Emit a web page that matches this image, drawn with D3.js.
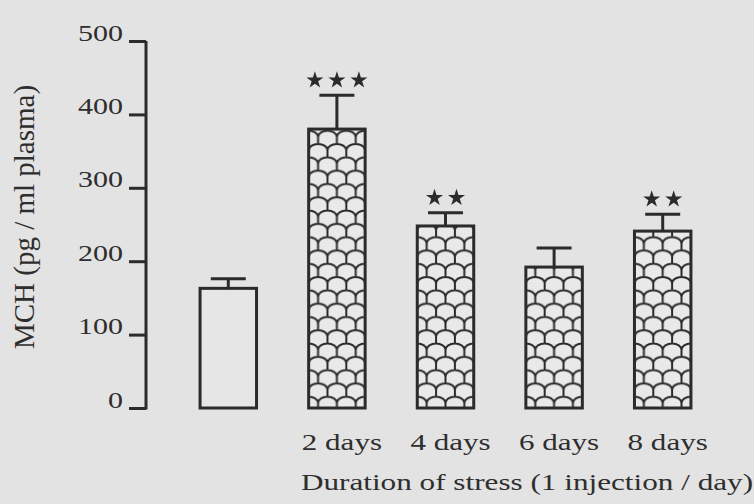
<!DOCTYPE html>
<html lang="en">
<head>
    <meta charset="UTF-8">
    <title>MCH plasma levels</title>
    <style>
        body { margin: 0; padding: 0; background: #e3e3e3; }
        svg { display: block; }
        text { font-family: "Liberation Serif", "DejaVu Serif", serif; fill: #2e2e2e; }
    </style>
</head>
<body>
<svg id="chart" width="754" height="504"></svg>

<script src="https://d3js.org/d3.v7.min.js"></script>
<script>
    // values
    const categories = ["control", "2 days", "4 days", "6 days", "8 days"];
    const xLabels = ["", "2 days", "4 days", "6 days", "8 days"];
    const means = [163, 380, 248, 192, 241];
    const sems = [13, 46, 18, 26, 23];
    const stars = [0, 3, 2, 0, 2];
    const hatched = [false, true, true, true, true];
    const yTicks = [0, 100, 200, 300, 400, 500];

    const ink = "#2b2b2b";
    const width = 754, height = 504;

    const svg = d3.select("#chart");

    svg.append("rect")
        .attr("width", width)
        .attr("height", height)
        .attr("fill", "#e3e3e3");

    const y = d3.scaleLinear().domain([0, 500]).range([408, 41]);
    const x = d3.scaleBand()
        .domain(categories)
        .range([174, 717])
        .paddingInner(0.48)
        .paddingOuter(0.24);

    // fish-scale pattern, one per bar so it starts at the bar edge
    const defs = svg.append("defs");
    const tw = x.bandwidth() / 3, th = 13.3, ry = 6.3;
    categories.forEach((c, i) => {
        if (!hatched[i]) return;
        const p = defs.append("pattern")
            .attr("id", "scale" + i)
            .attr("patternUnits", "userSpaceOnUse")
            .attr("x", x(c))
            .attr("y", y(0) + 2)
            .attr("width", tw)
            .attr("height", th * 2);
        p.append("rect").attr("width", tw).attr("height", th * 2).attr("fill", "#e9e9e9");
        let d = "";
        // two staggered rows; neighbours drawn too so arcs wrap over the tile edges
        [[0, 0], [tw / 2, th]].forEach(([ox, oy]) => {
            for (let k = -1; k <= 1; k++) {
                for (let r = -1; r <= 1; r++) {
                    const x0 = ox + k * tw, y0 = oy + r * th * 2 + ry;
                    d += `M${x0},${y0} A${tw / 2},${ry} 0 0,1 ${x0 + tw},${y0} `;
                    d += `M${x0},${y0} L${x0},${y0 + th - ry} `;
                }
            }
        });
        p.append("path")
            .attr("d", d)
            .attr("fill", "none")
            .attr("stroke", ink)
            .attr("stroke-width", 2);
    });

    // y axis
    const yAxis = svg.append("g")
        .attr("transform", "translate(146,0)")
        .call(d3.axisLeft(y).tickValues(yTicks).tickSize(17).tickSizeOuter(0));
    yAxis.select(".domain").attr("stroke", ink).attr("stroke-width", 3)
        .attr("d", `M0,${y(500)}V${y(0) + 1.5}`);
    yAxis.selectAll(".tick line").attr("stroke", ink).attr("stroke-width", 3).attr("x2", -17);
    const sy = 1.25;
    yAxis.selectAll(".tick text")
        .attr("x", -23 / sy)
        .attr("y", -1)
        .attr("dy", 0)
        .attr("transform", `scale(${sy},1)`)
        .style("font-size", "24px")
        .style("fill", "#2e2e2e");

    // bars
    const bars = svg.append("g");
    categories.forEach((c, i) => {
        const x0 = x(c), w = x.bandwidth();
        bars.append("rect")
            .attr("x", x0)
            .attr("y", y(means[i]))
            .attr("width", w)
            .attr("height", y(0) - y(means[i]))
            .attr("fill", hatched[i] ? `url(#scale${i})` : "#e6e6e6")
            .attr("stroke", ink)
            .attr("stroke-width", 3);

        const cx = x0 + w / 2;
        const top = y(means[i] + sems[i]);
        bars.append("line")
            .attr("x1", cx).attr("x2", cx)
            .attr("y1", y(means[i])).attr("y2", top)
            .attr("stroke", ink).attr("stroke-width", 3);
        bars.append("line")
            .attr("x1", cx - 17.5).attr("x2", cx + 17.5)
            .attr("y1", top).attr("y2", top)
            .attr("stroke", ink).attr("stroke-width", 3);

        for (let k = 0; k < stars[i]; k++) {
            const sx = cx + (k - (stars[i] - 1) / 2) * 22;
            bars.append("path")
                .attr("d", d3.symbol(d3.symbolStar, 90)())
                .attr("transform", `translate(${sx},${top - 15})`)
                .attr("fill", ink);
        }
    });

    // x labels
    const sxL = 1.35;
    svg.append("g").selectAll("text")
        .data(categories)
        .join("text")
        .attr("x", (d) => (x(d) + x.bandwidth() / 2 + 5) / sxL)
        .attr("y", 450)
        .attr("transform", `scale(${sxL},1)`)
        .attr("text-anchor", "middle")
        .style("font-size", "23px")
        .text((d, i) => xLabels[i]);

    const sxT = 1.3;
    svg.append("text")
        .attr("x", 527 / sxT)
        .attr("y", 490)
        .attr("transform", `scale(${sxT},1)`)
        .attr("text-anchor", "middle")
        .style("font-size", "24px")
        .text("Duration of stress (1 injection / day)");

    svg.append("text")
        .attr("transform", "translate(34,217) rotate(-90)")
        .attr("text-anchor", "middle")
        .style("font-size", "29px")
        .text("MCH (pg / ml plasma)");
</script>
</body>
</html>
